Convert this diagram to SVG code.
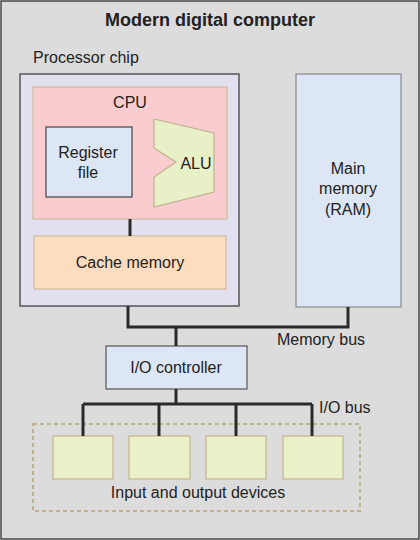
<svg xmlns="http://www.w3.org/2000/svg" width="420" height="540" viewBox="0 0 420 540">
  <style>
    text { font-family: "Liberation Sans", Arial, sans-serif; fill: #222; font-size: 16px; }
    .title { font-weight: bold; font-size: 18px; }
    .mid { text-anchor: middle; }
    .wire { stroke: #2a2a2a; stroke-width: 3; fill: none; }
    .dev { fill: #eaf0c8; stroke: #c4b48e; stroke-width: 1.2; }
  </style>
  <rect x="1" y="1" width="418" height="538" fill="#dcdcdc" stroke="#444" stroke-width="1.5"/>
  <text class="title mid" x="210" y="26">Modern digital computer</text>

  <g id="processor-chip">
    <text x="33" y="63">Processor chip</text>
    <rect x="20" y="74" width="219" height="232" fill="#e2dfee" stroke="#555" stroke-width="1.5"/>
  </g>

  <g id="cpu">
    <rect x="33" y="87" width="194" height="132" fill="#f9cdd0" stroke="#c6b695" stroke-width="1"/>
    <text class="mid" x="130" y="108">CPU</text>
  </g>

  <g id="register-file">
    <rect x="46" y="127" width="86" height="70" fill="#dde6f5" stroke="#444" stroke-width="1.2"/>
    <text class="mid" x="88" y="158">Register</text>
    <text class="mid" x="88" y="178">file</text>
  </g>

  <g id="alu">
    <polygon points="154,119 214,133 214,192 154,207 154,177 176,162 154,148" fill="#e8f0c8" stroke="#c0b08e" stroke-width="1.2"/>
    <text class="mid" x="196" y="169">ALU</text>
  </g>

  <g id="cache-memory">
    <rect x="34" y="236" width="192" height="53" fill="#fddcc0" stroke="#c6b695" stroke-width="1"/>
    <text class="mid" x="130" y="268">Cache memory</text>
  </g>

  <g id="main-memory">
    <rect x="296" y="74" width="105" height="233" fill="#dde6f5" stroke="#777" stroke-width="1"/>
    <text class="mid" x="348" y="174">Main</text>
    <text class="mid" x="348" y="194">memory</text>
    <text class="mid" x="348" y="215">(RAM)</text>
  </g>

  <g id="io-controller">
    <rect x="106" y="346" width="141" height="43" fill="#dde6f5" stroke="#555" stroke-width="1.2"/>
    <text class="mid" x="176" y="373">I/O controller</text>
  </g>

  <g id="io-devices">
    <rect x="33" y="424" width="327" height="87" fill="none" stroke="#bfb08f" stroke-width="2" stroke-dasharray="4,3"/>
    <rect class="dev" x="53" y="436" width="60" height="43"/>
    <rect class="dev" x="129" y="436" width="61" height="43"/>
    <rect class="dev" x="206" y="436" width="60" height="43"/>
    <rect class="dev" x="283" y="436" width="60" height="43"/>
    <text class="mid" x="198" y="498">Input and output devices</text>
  </g>

  <g id="connectors">
    <line class="wire" x1="130" y1="219" x2="130" y2="236"/>
    <polyline class="wire" points="128,306 128,327 348,327 348,307"/>
    <line class="wire" x1="176" y1="327" x2="176" y2="346"/>
    <line class="wire" x1="176" y1="389" x2="176" y2="404"/>
    <line class="wire" x1="83" y1="404" x2="312" y2="404"/>
    <line class="wire" x1="83" y1="404" x2="83" y2="436"/>
    <line class="wire" x1="159" y1="404" x2="159" y2="436"/>
    <line class="wire" x1="236" y1="404" x2="236" y2="436"/>
    <line class="wire" x1="312" y1="404" x2="312" y2="436"/>
    <text x="277" y="345">Memory bus</text>
    <text x="319" y="413">I/O bus</text>
  </g>
</svg>
